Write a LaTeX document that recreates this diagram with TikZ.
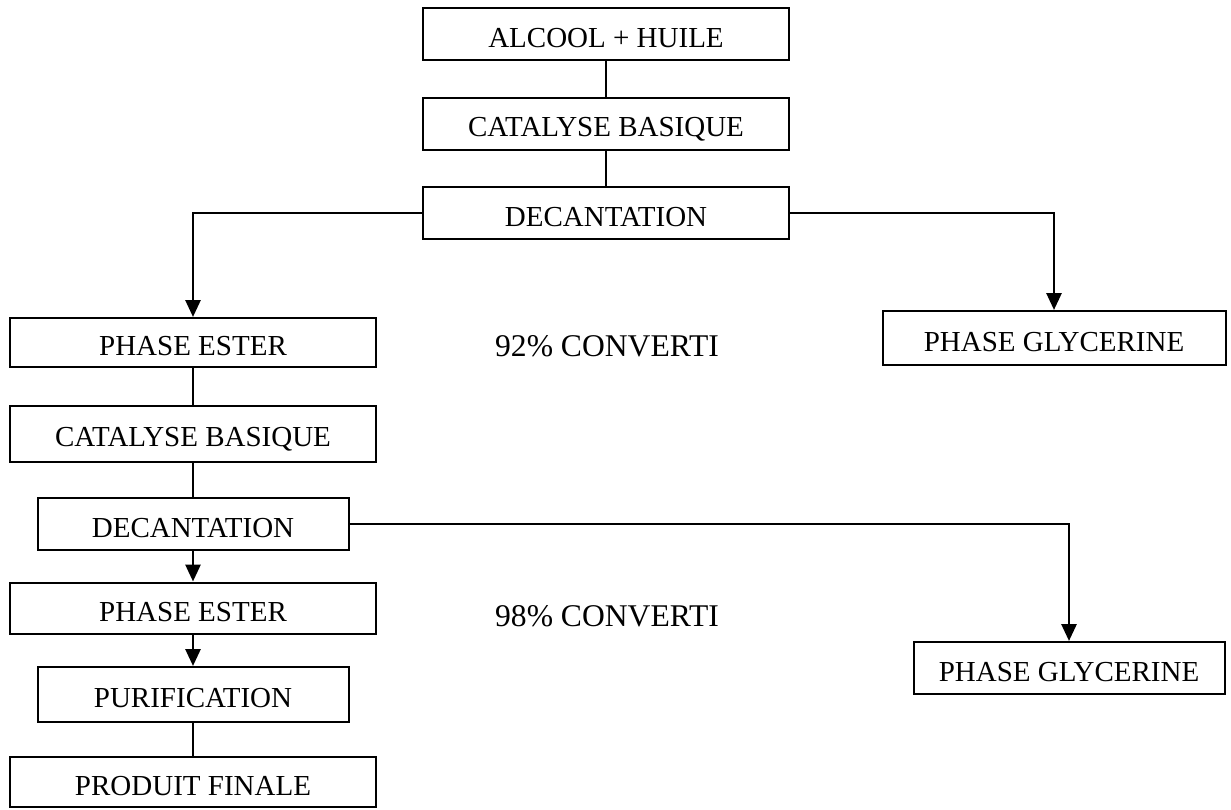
\documentclass[tikz,border=0pt]{standalone}
\usepackage{fontspec}
\setmainfont{Liberation Serif}
\usetikzlibrary{arrows.meta}
\tikzset{
  >={Triangle[length=8.5pt,width=7.5pt]},
}
\tikzstyle{stage}=[draw,line width=1pt,inner sep=0pt,minimum height=26pt,text height=13pt,text depth=0pt]
\tikzstyle{wide}=[stage,minimum width=183pt]
\tikzstyle{narrow}=[stage,minimum width=155.5pt]
\tikzstyle{rate}=[font=\fontsize{15.8}{19}\selectfont]
\tikzstyle{link}=[line width=0.8pt]
\tikzstyle{flow}=[line width=1.4pt,->]
\tikzstyle{every node}=[font=\fontsize{14.5}{17}\selectfont]

\begin{document}
\begin{tikzpicture}[x=0.5pt,y=-0.5pt]
    \useasboundingbox (0,0) rectangle (1231,809);
    % main column
    \node[wide] (mix) at (606,34) {ALCOOL + HUILE};
    \node[wide] (cat1) at (606,123.5) {CATALYSE BASIQUE};
    \node[wide] (dec1) at (606,213) {DECANTATION};
    % first separation
    \node[wide,minimum height=24.5pt] (ester1) at (193,342.5) {PHASE ESTER};
    \node[stage,minimum width=171.5pt,minimum height=27pt] (gly1) at (1054,338) {PHASE GLYCERINE};
    \node[rate] (conv1) at (607,346) {92\% CONVERTI};
    \node[wide,minimum height=28pt] (cat2) at (193,433.5) {CATALYSE BASIQUE};
    \node[narrow] (dec2) at (193,524) {DECANTATION};
    % second separation
    \node[wide,minimum height=25.5pt] (ester2) at (193,608) {PHASE ESTER};
    \node[rate] (conv2) at (607,616) {98\% CONVERTI};
    \node[narrow] (gly2) at (1069,668) {PHASE GLYCERINE};
    \node[narrow,minimum height=27.5pt] (purif) at (193,694.5) {PURIFICATION};
    \node[wide,minimum height=25pt] (final) at (193,782) {PRODUIT FINALE};
    % connectors
    \draw[link] (mix) -- (cat1);
    \draw[link] (cat1) -- (dec1);
    \draw[flow] (dec1.west) -| (ester1.north);
    \draw[flow] (dec1.east) -| (gly1.north);
    \draw[link] (ester1) -- (cat2);
    \draw[link] (cat2) -- (dec2);
    \draw[flow] (dec2) -- (ester2);
    \draw[flow] (dec2.east) -| (gly2.north);
    \draw[flow] (ester2) -- (purif);
    \draw[link] (purif) -- (final);
  \end{tikzpicture}
\end{document}
